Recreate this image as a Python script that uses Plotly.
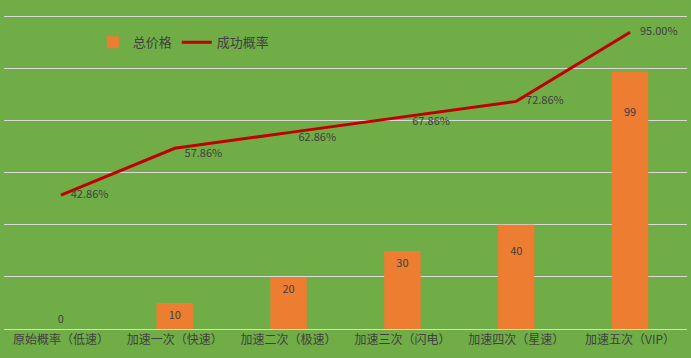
import plotly.graph_objects as go

categories = ["原始概率（低速）", "加速一次（快速）", "加速二次（极速）", "加速三次（闪电）", "加速四次（星速）", "加速五次（VIP）"]
prices = [0, 10, 20, 30, 40, 99]
rates = [0.4286, 0.5786, 0.6286, 0.6786, 0.7286, 0.95]
rate_labels = ["42.86%", "57.86%", "62.86%", "67.86%", "72.86%", "95.00%"]

font_family = "Noto Sans CJK SC, Microsoft YaHei, sans-serif"
text_color = "#404040"

# label nudges (blank lines push inside-end labels lower, spaces push line labels right)
bar_label_breaks = [0, 0, 0, 0, 1, 2]
bar_text = ["\u00a0<br>" * b + str(v) for v, b in zip(prices, bar_label_breaks)]
line_text = ["\u00a0\u00a0\u00a0\u00a0" + t for t in rate_labels]

Y_TOP = 121

fig = go.Figure()
fig.add_trace(go.Bar(
    x=categories, y=prices, name="总价格",
    marker=dict(color="#ED7D31", line=dict(width=0)),
    width=0.32,
    text=bar_text,
    textposition=["outside" if v == 0 else "inside" for v in prices],
    insidetextanchor="end",
    textfont=dict(size=11, color=text_color, family=font_family),
    cliponaxis=False,
))
fig.add_trace(go.Scatter(
    x=categories, y=rates, name="成功概率", yaxis="y2",
    mode="lines+text",
    line=dict(color="#C00000", width=3),
    text=line_text,
    textposition=["middle right", "bottom right", "bottom right", "bottom right", "middle right", "middle right"],
    textfont=dict(size=11, color=text_color, family=font_family),
    cliponaxis=False,
))

fig.update_layout(
    width=691, height=358,
    margin=dict(l=4, r=4, t=14, b=29),
    paper_bgcolor="#70AD47", plot_bgcolor="#70AD47",
    font=dict(family=font_family, color=text_color, size=13),
    showlegend=True,
    legend=dict(orientation="h", x=0.13, y=0.91, xanchor="left", yanchor="middle",
                bgcolor="rgba(0,0,0,0)", font=dict(size=13, color=text_color),
                itemwidth=30),
    xaxis=dict(showgrid=False, showline=True, linecolor="#D9D9D9", linewidth=1,
               ticks="", tickfont=dict(size=12, color=text_color)),
    yaxis=dict(range=[0, Y_TOP], tick0=0, dtick=20, showgrid=True, gridcolor="#D9D9D9", gridwidth=1,
               showticklabels=False, zeroline=False, showline=False),
    yaxis2=dict(range=[0, Y_TOP / 120], overlaying="y", side="right", showgrid=False,
                showticklabels=False, zeroline=False, showline=False),
)

fig.write_html("out.html", config={"displayModeBar": False},
               post_script="document.body.style.margin='0';document.body.style.background='#70AD47';")
